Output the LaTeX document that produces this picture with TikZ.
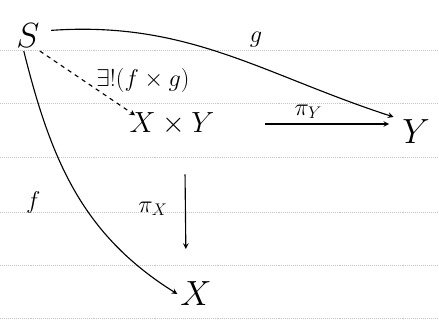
\documentclass[tikz,border=0pt]{standalone}
\usetikzlibrary{positioning}
\begin{document}
\begin{tikzpicture}[
    obj/.style={inner sep=2pt, font=\fontsize{26}{28}\selectfont},
    lbl/.style={font=\fontsize{17}{19}\selectfont},
    arrow/.style={->, >=stealth, thick},
    rule/.style={gray!45, densely dotted, thin}
]
    \useasboundingbox (0,0) rectangle (10.975,8.2);
    % notebook lines
    \foreach \y in {50,103,157,212,265,318}
        \draw[rule] (0,{(328-\y)/40}) -- (10.975,{(328-\y)/40});

    \node (S) [obj] at (0.7,7.3) {$S$};
    \node (XY) [obj, font=\fontsize{20}{22}\selectfont] at (4.3,5.1) {$X\times Y$};
    \node (Y) [obj] at (10.4,4.9) {$Y$};
    \node (X) [obj] at (4.9,0.85) {$X$};

    \draw [arrow] ([xshift=6pt, yshift=4pt]S.east) to[out=4, in=162] node[lbl, above=9pt, pos=0.6] {$g$} ([xshift=-4pt]Y.north west);
    \draw [arrow] ([xshift=-3pt]S.south) to[out=-76, in=148] node[lbl, left=26pt, pos=0.55] {$f$} (X.west);
    \draw [arrow, dashed] ([xshift=-2pt]S.south east) -- node[lbl, right=6pt, pos=0.45] {$\exists!(f\times g)$} ([xshift=6pt, yshift=-4pt]XY.north west);
    \draw [arrow, shorten <=1.2cm, shorten >=0.25cm] (XY.east) -- node[lbl, above] {$\pi_Y$} (Y.west |- XY.east);
    \draw [arrow, shorten <=0.9cm, shorten >=0.75cm] ([xshift=9pt]XY.south) -- node[lbl, left=9pt] {$\pi_X$} ([xshift=-7pt]X.north);
\end{tikzpicture}
\end{document}
